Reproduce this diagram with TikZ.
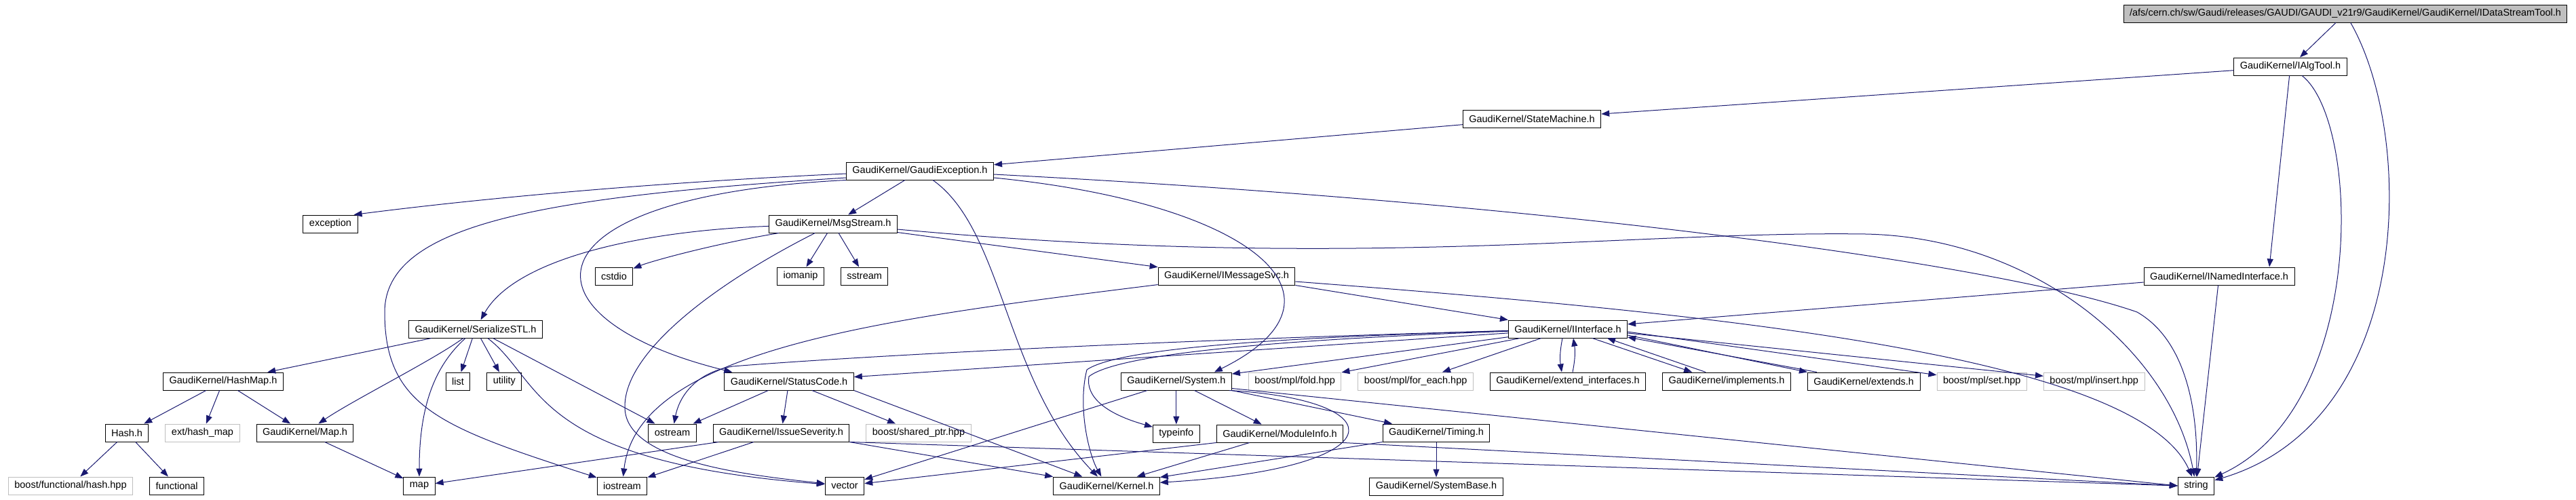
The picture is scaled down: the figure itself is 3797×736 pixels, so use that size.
\documentclass[tikz,border=0pt]{standalone}
\usepackage{fontspec}
\setmainfont{Liberation Sans}
\usepackage{tikz}
\usetikzlibrary{positioning,arrows.meta}
\definecolor{edgeblue}{RGB}{25,25,112}
\definecolor{extgray}{RGB}{191,191,191}

\begin{document}
\begin{tikzpicture}[
  x=1pt, y=-1pt,
  node distance=24pt,
  hdr/.style={draw=black, fill=white, line width=1pt, minimum height=26pt, inner xsep=9pt, inner ysep=0pt, font=\fontsize{14.5}{16}\selectfont},
  extfile/.style={hdr, draw=extgray},
  mainfile/.style={hdr, fill=extgray},
  dep/.style={-{Triangle[length=12pt, width=9pt]}, edgeblue, line width=1pt}
]
\useasboundingbox (0,0) rectangle (3797,736);

\node[mainfile] (root) at (3457,20) {/afs/cern.ch/sw/Gaudi/releases/GAUDI/GAUDI\_v21r9/GaudiKernel/GaudiKernel/IDataStreamTool.h};
\node[hdr] (iAlgTool) at (3376,98) {GaudiKernel/IAlgTool.h};
\node[hdr] (stateMachine) at (2258,175) {GaudiKernel/StateMachine.h};
\node[hdr] (gaudiExc) at (1356,252) {GaudiKernel/GaudiException.h};
\node[hdr] (exception) at (487,330) {exception};
\node[hdr] (msgStream) at (1228,330) {GaudiKernel/MsgStream.h};

\node[hdr] (cstdio) at (905,407) {cstdio};
\node[hdr] (iomanip) at (1180,407) {iomanip};
\node[hdr, right=of iomanip] (sstream) {sstream};
\node[hdr] (iMsgSvc) at (1808,407) {GaudiKernel/IMessageSvc.h};
\node[hdr] (iNamedIf) at (3271,407) {GaudiKernel/INamedInterface.h};

\node[hdr] (serializeSTL) at (701,485) {GaudiKernel/SerializeSTL.h};
\node[hdr] (iInterface) at (2311,485) {GaudiKernel/IInterface.h};

\node[hdr] (hashMap) at (329,562) {GaudiKernel/HashMap.h};
\node[hdr] (list) at (675,562) {list};
\node[hdr, right=of list] (utility) {utility};
\node[hdr] (statusCode) at (1163,562) {GaudiKernel/StatusCode.h};
\node[hdr] (extendIf) at (2311,562) {GaudiKernel/extend\_interfaces.h};
\node[extfile, left=of extendIf] (mplForEach) {boost/mpl/for\_each.hpp};
\node[extfile, left=of mplForEach] (mplFold) {boost/mpl/fold.hpp};
\node[hdr, left=of mplFold] (system) {GaudiKernel/System.h};
\node[hdr, right=of extendIf] (implements) {GaudiKernel/implements.h};
\node[hdr, right=of implements] (extends) {GaudiKernel/extends.h};
\node[extfile, right=of extends] (mplSet) {boost/mpl/set.hpp};
\node[extfile, right=of mplSet] (mplInsert) {boost/mpl/insert.hpp};

\node[hdr] (hash) at (187,638) {Hash.h};
\node[extfile, right=of hash] (extHashMap) {ext/hash\_map};
\node[hdr, right=of extHashMap] (gkMap) {GaudiKernel/Map.h};
\node[hdr] (ostream) at (991,638) {ostream};
\node[hdr, right=of ostream] (issueSev) {GaudiKernel/IssueSeverity.h};
\node[extfile, right=of issueSev] (sharedPtr) {boost/shared\_ptr.hpp};
\node[hdr, below=50pt of system] (typeinfo) {typeinfo};
\node[hdr, right=of typeinfo] (moduleInfo) {GaudiKernel/ModuleInfo.h};
\node[hdr] (timing) at (2117,638) {GaudiKernel/Timing.h};

\node[extfile] (boostHash) at (104,716) {boost/functional/hash.hpp};
\node[hdr, right=of boostHash] (functional) {functional};
\node[hdr] (map) at (618,716) {map};
\node[hdr] (iostream) at (917,716) {iostream};
\node[hdr] (vector) at (1245,716) {vector};
\node[hdr] (kernel) at (1631,716) {GaudiKernel/Kernel.h};
\node[hdr, below=52pt of timing] (systemBase) {GaudiKernel/SystemBase.h};
\node[hdr] (string) at (3237,716) {string};

\draw[dep] (root) -- (iAlgTool);
\draw[dep] (root) .. controls (3560,200) and (3560,620) .. (string);
\draw[dep] (iAlgTool) -- (stateMachine);
\draw[dep] (iAlgTool) -- ([xshift=74pt]iNamedIf.north);
\draw[dep] (iAlgTool) .. controls (3480,180) and (3490,600) .. (string);
\draw[dep] (stateMachine) -- (gaudiExc);

\draw[dep] ([yshift=-4pt]gaudiExc.west) .. controls (900,272) and (650,300) .. ([xshift=-6pt]exception.north east);
\draw[dep] (gaudiExc) -- (msgStream);
\draw[dep] (gaudiExc.south west) .. controls (760,290) and (760,470) .. ([xshift=12pt]statusCode.north west);
\draw[dep] ([yshift=-10pt]gaudiExc.east) .. controls (1850,300) and (2010,440) .. ([xshift=56pt]system.north);
\draw[dep] (gaudiExc) .. controls (1480,340) and (1480,560) .. (kernel);
\draw[dep] ([yshift=-5pt]gaudiExc.east) .. controls (2300,300) and (2950,390) .. (3150,460) .. controls (3220,500) and (3240,600) .. (string);
\draw[dep] ([yshift=-10pt]gaudiExc.west) .. controls (800,290) and (567,330) .. (567,460) .. controls (567,600) and (650,630) .. (iostream);

\draw[dep] (msgStream) .. controls (1050,360) and (960,385) .. (cstdio);
\draw[dep] (msgStream) -- (iomanip);
\draw[dep] (msgStream) -- (sstream);
\draw[dep] (msgStream) -- (iMsgSvc);
\draw[dep] (msgStream) .. controls (950,340) and (760,380) .. (serializeSTL);
\draw[dep] ([yshift=-8pt]msgStream.east) .. controls (2000,400) and (2400,340) .. (2750,345) .. controls (3000,350) and (3200,520) .. (string);
\draw[dep] (msgStream) .. controls (1050,420) and (920,520) .. (921,600) .. controls (921,680) and (1100,700) .. (vector);

\draw[dep] (serializeSTL) -- (hashMap);
\draw[dep] (serializeSTL) .. controls (640,530) and (520,590) .. (gkMap);
\draw[dep] (serializeSTL) .. controls (640,540) and (618,600) .. (map);
\draw[dep] (serializeSTL) -- (list);
\draw[dep] (serializeSTL) -- (utility);
\draw[dep] (serializeSTL) -- (ostream);
\draw[dep] (serializeSTL) .. controls (800,560) and (780,680) .. (vector);

\draw[dep] (hashMap) -- (hash);
\draw[dep] (hashMap) -- (extHashMap);
\draw[dep] (hashMap) -- (gkMap);
\draw[dep] (hash) -- (boostHash);
\draw[dep] (hash) -- (functional);
\draw[dep] (gkMap) -- (map);

\draw[dep] (iMsgSvc.south east) -- (iInterface.north west);
\draw[dep] ([yshift=-8pt]iMsgSvc.east) .. controls (2500,460) and (3150,520) .. (string);
\draw[dep] (iMsgSvc) .. controls (1300,470) and (940,515) .. (iostream);
\draw[dep] (iNamedIf) -- (iInterface);
\draw[dep] (iNamedIf) -- (string);

\draw[dep] (iInterface) .. controls (1600,505) and (1200,530) .. (1080,540) .. controls (1020,550) and (1000,590) .. (ostream);
\draw[dep] (iInterface) -- (statusCode);
\draw[dep] (iInterface) -- (system);
\draw[dep] (iInterface) .. controls (1900,497) and (1650,512) .. (1602,545) .. controls (1588,600) and (1605,670) .. (kernel);
\draw[dep] (iInterface) .. controls (1900,500) and (1650,520) .. (1605,555) .. controls (1600,585) and (1630,610) .. (typeinfo);
\draw[dep] (iInterface) -- (mplFold);
\draw[dep] (iInterface) -- (mplForEach);
\draw[dep] ([xshift=-8pt]iInterface.south) to[bend right=10] ([xshift=-9pt]extendIf.north);
\draw[dep] ([xshift=7pt]extendIf.north) to[bend right=10] ([xshift=8pt]iInterface.south);
\draw[dep] ([xshift=36pt]iInterface.south) -- ([xshift=44pt]implements.north west);
\draw[dep] ([xshift=64pt]implements.north west) -- ([xshift=58pt]iInterface.south);
\draw[dep] ([yshift=-9pt]iInterface.east) -- (extends.north west);
\draw[dep] ([xshift=14pt]extends.north west) -- ([yshift=-12pt]iInterface.east);
\draw[dep] ([yshift=-4pt]iInterface.east) -- (mplSet);
\draw[dep] ([yshift=-6pt]iInterface.east) -- (mplInsert);

\draw[dep] (statusCode) -- (ostream);
\draw[dep] (statusCode) -- (issueSev);
\draw[dep] (statusCode) -- (sharedPtr);
\draw[dep] (statusCode.south east) -- (kernel);

\draw[dep] (issueSev) -- (map);
\draw[dep] (issueSev) -- (iostream);
\draw[dep] (issueSev.south east) -- (kernel);
\draw[dep] (issueSev.south east) -- (string.west);

\draw[dep] (system) -- (typeinfo);
\draw[dep] (system) -- (moduleInfo);
\draw[dep] (system.south east) -- (timing);
\draw[dep] (system) -- (vector);
\draw[dep] ([xshift=-4pt]system.south east) .. controls (2060,590) and (2060,690) .. (kernel);
\draw[dep] ([yshift=3pt]system.south east) -- (string.west);

\draw[dep] (moduleInfo.south west) -- (vector);
\draw[dep] (moduleInfo) -- (kernel);
\draw[dep] (moduleInfo.south east) -- (string.west);

\draw[dep] (timing) -- (systemBase);
\draw[dep] (timing.south west) -- (kernel);

\end{tikzpicture}
\end{document}
